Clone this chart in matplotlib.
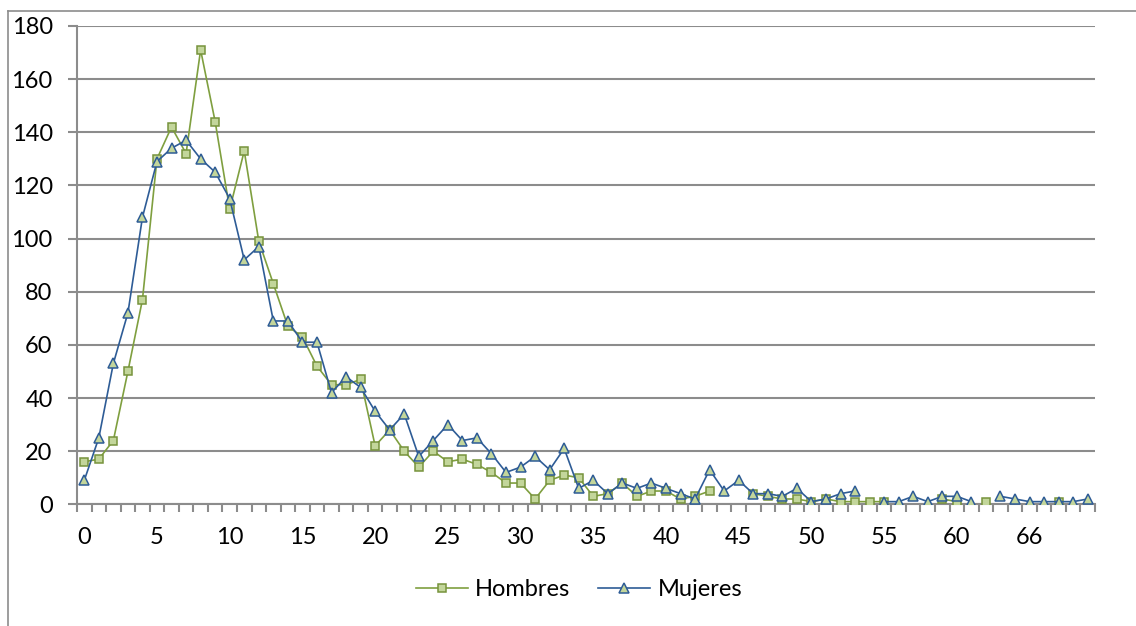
import numpy as np
import matplotlib
matplotlib.use("Agg")
import matplotlib.pyplot as plt
from matplotlib.lines import Line2D

# Age categories (64 is absent from the table)
ages = list(range(0, 64)) + list(range(65, 71))

hombres = [16, 17, 24, 50, 77, 130, 142, 132, 171, 144,
           111, 133, 99, 83, 67, 63, 52, 45, 45, 47,
           22, 28, 20, 14, 20, 16, 17, 15, 12, 8,
           8, 2, 9, 11, 10, 3, 4, 8, 3, 5,
           5, 2, 3, 5, None, None, 4, 3, 2, 2,
           1, 2, 1, 1, 1, 1, None, None, None, 2,
           1, None, 1, None, None, None, None, 1, None, None]

mujeres = [9, 25, 53, 72, 108, 129, 134, 137, 130, 125,
           115, 92, 97, 69, 69, 61, 61, 42, 48, 44,
           35, 28, 34, 18, 24, 30, 24, 25, 19, 12,
           14, 18, 13, 21, 6, 9, 4, 8, 6, 8,
           6, 4, 2, 13, 5, 9, 4, 4, 3, 6,
           1, 2, 4, 5, None, 1, 1, 3, 1, 3,
           3, 1, None, 3, 2, 1, 1, 1, 1, 2]

y_ticks = list(range(0, 181, 20))
label_step = 5

GRID = '#8c8c8c'
GREEN_LINE = '#7F9F3F'
GREEN_EDGE = '#77933C'
GREEN_FILL = '#C3D69B'
BLUE = '#2E5C96'
FS = 17

plt.rcParams['font.family'] = ['Lato', 'DejaVu Sans']

W, H = 1136, 626
fig = plt.figure(figsize=(W / 100, H / 100), dpi=100)
left, right, top, bottom = 77, 1095, 26, 504.3
ax = fig.add_axes([left / W, 1 - bottom / H, (right - left) / W, (bottom - top) / H])

x = np.arange(len(ages))
h = np.array([np.nan if v is None else v for v in hombres], dtype=float)
m = np.array([np.nan if v is None else v for v in mujeres], dtype=float)

ax.plot(x, h, color=GREEN_LINE, lw=1.2, marker='s', ms=6.2,
        mfc=GREEN_FILL, mec=GREEN_EDGE, mew=1.1, label='Hombres', zorder=3)
ax.plot(x, m, color=BLUE, lw=1.2, marker='^', ms=7.5,
        mfc=GREEN_FILL, mec=BLUE, mew=1.1, label='Mujeres', zorder=4)

ax.set_xlim(-0.5, len(ages) - 0.5)
ax.set_ylim(0, 180)

ax.set_yticks(y_ticks)
ax.yaxis.grid(True, color=GRID, lw=1.5)
ax.set_axisbelow(True)
for s in ('top', 'right'):
    ax.spines[s].set_visible(False)
for s in ('left', 'bottom'):
    ax.spines[s].set_color(GRID)
    ax.spines[s].set_linewidth(1.5)

major = list(range(0, len(ages), label_step))
ax.set_xticks(major)
ax.set_xticklabels([str(ages[i]) for i in major])
ax.set_xticks(np.arange(-0.5, len(ages), 1.0), minor=True)
ax.tick_params(axis='x', which='major', length=0, pad=16, labelsize=FS)
ax.tick_params(axis='x', which='minor', length=5.5, width=1.5, color=GRID, direction='out')
ax.tick_params(axis='y', which='major', length=6.5, width=1.5, color=GRID, pad=11, labelsize=FS)

fig.legend(loc='center', bbox_to_anchor=(579 / W, 1 - 590 / H), ncol=2, frameon=False,
           fontsize=FS, handlelength=2.2, handletextpad=0.3, columnspacing=1.2)

# Outer chart frame (left and top edges)
fig.add_artist(Line2D([7.5 / W, 7.5 / W], [0, 1 - 10.5 / H], transform=fig.transFigure,
                      color=GRID, lw=1.2))
fig.add_artist(Line2D([7.5 / W, 1], [1 - 10.5 / H, 1 - 10.5 / H], transform=fig.transFigure,
                      color=GRID, lw=1.2))

fig.savefig('out.png', dpi=100)
